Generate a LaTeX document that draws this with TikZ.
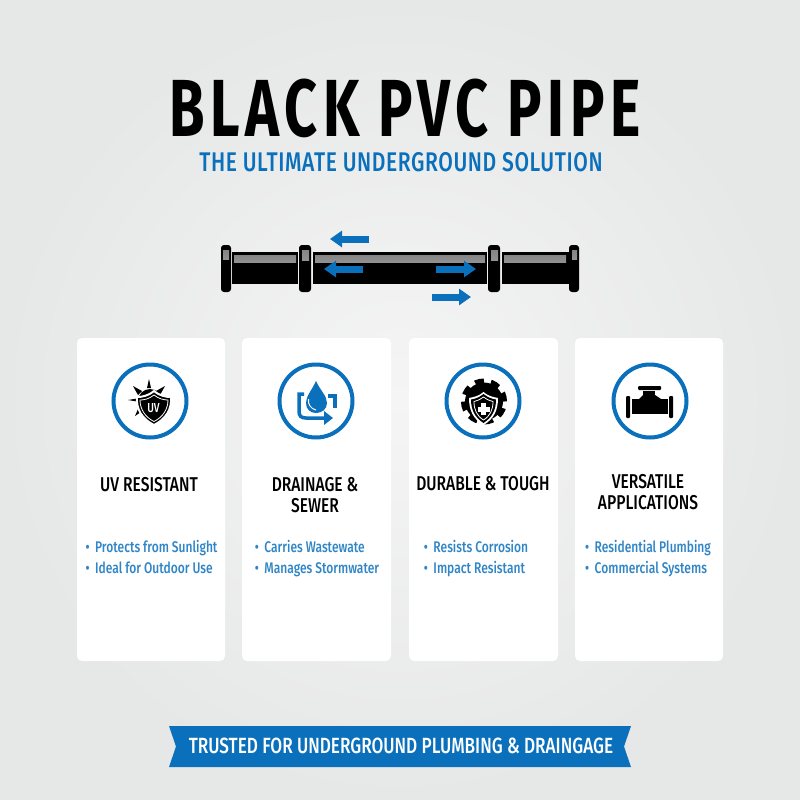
\documentclass[tikz,border=0pt]{standalone}
\usepackage{fontspec}
\setmainfont{Fira Sans}
\newfontfamily\narrowfont[FakeStretch=0.78]{Fira Sans Medium}
\newfontfamily\subtitlefont[FakeStretch=0.78,LetterSpace=2.2]{Fira Sans Medium}
\newfontfamily\titlefont[FakeStretch=0.71,LetterSpace=6.8]{Fira Sans Bold}
\usetikzlibrary{positioning}
\usetikzlibrary{arrows.meta}
\definecolor{pipeblue}{HTML}{0A70BC}
\definecolor{bgmid}{HTML}{F5F5F5}
\definecolor{bgedge}{HTML}{E6E7E7}
\tikzset{
	card/.style = {fill=white, rounded corners=5pt, draw=none},
	cardtitle/.style = {align=center, inner sep=0pt, text=black, font=\narrowfont\fontsize{20}{21}\selectfont},
	bullets/.style = {align=left, inner sep=0pt, text=pipeblue!85!white, font=\narrowfont\fontsize{15.4}{21}\selectfont},
	ring/.style = {circle, draw=pipeblue, line width=4pt, minimum size=73pt, inner sep=0pt, fill=white},
	collar/.style = {fill=black, rounded corners=3pt},
	shine/.style = {top color=black!45, bottom color=black!40, fill opacity=0.95},
	flow/.style = {-{Triangle[length=12pt,width=16pt]}, pipeblue, line width=7pt},
	gear/.style = {fill=black},
	drawn/.style = {pipeblue, line width=3.5pt}
}
\begin{document}
\begin{tikzpicture}[x=1pt,y=-1pt]
	\useasboundingbox (0,0) rectangle (800,800);
	\fill[inner color=bgmid, outer color=bgedge] (0,0) rectangle (800,800);
	% heading
	\node[inner sep=0pt, anchor=base, text depth=0pt, font=\titlefont\fontsize{81}{81}\selectfont] (heading) at (405,136) {BLACK PVC PIPE};
	\node[inner sep=0pt, anchor=base, text depth=0pt, text height=19pt, text=pipeblue, font=\subtitlefont\fontsize{27}{27}\selectfont] (subheading) at (401,171) {THE ULTIMATE UNDERGROUND SOLUTION};
	% pipe
	\fill[black] (232,252) rectangle (298,284);
	\fill[black] (313,252) rectangle (487,284);
	\fill[black] (502,252) rectangle (569,284);
	\fill[collar] (221,245) rectangle (231,292);
	\fill[collar] (299,245) rectangle (311,292);
	\fill[collar] (488,245) rectangle (500,292);
	\fill[collar] (569,245) rectangle (579,292);
	\shade[shine] (234,255) rectangle (296,262);
	\shade[shine] (315,255) rectangle (485,262);
	\shade[shine] (504,255) rectangle (566,262);
	\shade[shine] (223,250) rectangle (229,259);
	\shade[shine] (302,250) rectangle (309,260);
	\shade[shine] (491,250) rectangle (498,260);
	\shade[shine] (572,250) rectangle (577,259);
	\coordinate (a1) at (369,239);
	\coordinate (a2) at (330,239);
	\coordinate (b1) at (363,269);
	\coordinate (b2) at (324,269);
	\coordinate (c1) at (436,269);
	\coordinate (c2) at (476,269);
	\coordinate (d1) at (432,297);
	\coordinate (d2) at (471,297);
	\draw[flow] (a1) -- (a2);
	\draw[flow] (b1) -- (b2);
	\draw[flow] (c1) -- (c2);
	\draw[flow] (d1) -- (d2);
	% cards
	\fill[card] (77,338) rectangle (225,661);
	\fill[card] (242,338) rectangle (391,661);
	\fill[card] (409,338) rectangle (558,661);
	\fill[card] (575,338) rectangle (723,661);
	\node[ring] (uv) at (150,401) {};
	\node[ring] (drain) at (316,401) {};
	\node[ring] (tough) at (483,401) {};
	\node[ring] (versatile) at (650,401) {};
	% sun and shield
	\fill[black] (147,388) -- (149,379) -- (151,388) -- cycle;
	\fill[black] (138,395) -- (133,386) -- (142,391) -- cycle;
	\fill[black] (137,398.5) -- (128,400) -- (137,401.5) -- cycle;
	\fill[black] (156,391) -- (165,386) -- (160,395) -- cycle;
	\fill[black] (138,409) -- (135,416) -- (141,412) -- cycle;
	\fill[black] (150,401) circle (12pt);
	\draw[white, line width=2pt, fill=black] (154,391) .. controls (160,396) and (166,397) .. (171,397) .. controls (172,409) and (166,419) .. (154,425) .. controls (142,419) and (136,409) .. (137,397) .. controls (142,397) and (148,396) .. (154,391) -- cycle;
	\draw[white, line width=0.8pt] (154,395) .. controls (159,399) and (164,400) .. (168,400) .. controls (168,409) and (163,417) .. (154,421.5) .. controls (145,417) and (140,409) .. (140,400) .. controls (144,400) and (149,399) .. (154,395) -- cycle;
	\node[inner sep=0pt, text=white, font=\narrowfont\fontsize{13}{13}\selectfont] (uvmark) at (153.5,408) {UV};
	% drop and return arrow
	\fill[pipeblue] (316,381) .. controls (320,390) and (327,396) .. (327,403) .. controls (327,409) and (322,413) .. (316,413) .. controls (310,413) and (306,409) .. (306,403) .. controls (306,396) and (312,390) .. (316,381) -- cycle;
	\draw[white, line width=1pt] (308.5,399) .. controls (307.5,404) and (311,409) .. (316,410);
	\draw[drawn] (304,394) -- (299,394) -- (299,411) .. controls (299,416) and (301,418) .. (306,418) -- (326,418);
	\draw[drawn] (328,396) -- (335,396) -- (335,408);
	\fill[pipeblue] (324,411) -- (333,418) -- (324,425) -- cycle;
	% gear and shield
	\draw[black, line width=5pt, dash pattern=on 9pt off 7.1pt] (484,401.5) circle (20.5pt);
	\fill[gear] (484,401.5) circle (19pt);
	\fill[white] (483.5,392) .. controls (488,396) and (493,397) .. (498,398) .. controls (498,410) and (494,419) .. (483.5,425) .. controls (473,419) and (469,410) .. (469,398) .. controls (474,397) and (479,396) .. (483.5,392) -- cycle;
	\fill[black] (483.5,394) .. controls (488,397.5) and (492,399) .. (496,399.5) .. controls (496,410) and (492,417.5) .. (483.5,423) .. controls (475,417.5) and (471,410) .. (471,399.5) .. controls (475,399) and (479,397.5) .. (483.5,394) -- cycle;
	\draw[white, line width=0.8pt] (483.5,397) .. controls (487,399.5) and (490,401) .. (493,401.5) .. controls (493,410) and (490,416) .. (483.5,420) .. controls (477,416) and (474,410) .. (474,401.5) .. controls (477,401) and (480,399.5) .. (483.5,397) -- cycle;
	\fill[white] (481,403) rectangle (486,415);
	\fill[white] (477.5,406.5) rectangle (489.5,411.5);
	% tee fitting
	\fill[black] (632,399) rectangle (668,414);
	\fill[black] (643,391) rectangle (655,400);
	\fill[black] (639,399) -- (643,395) -- (655,395) -- (661,399) -- cycle;
	\fill[collar, rounded corners=1pt] (626,396) rectangle (630,418);
	\fill[collar, rounded corners=1pt] (669,396) rectangle (673,418);
	\fill[collar, rounded corners=1pt] (638,386) rectangle (661,390);
	% card texts
	\node[cardtitle] (uvtitle) at (149,485) {UV RESISTANT};
	\node[cardtitle] (draintitle) at (315,495) {DRAINAGE \&\\SEWER};
	\node[cardtitle] (toughtitle) at (483,484) {DURABLE \& TOUGH};
	\node[cardtitle] (versatiletitle) at (648,492) {VERSATILE\\APPLICATIONS};
	\node[bullets] (uvlist) at (151.5,557) {•\, Protects from Sunlight\\•\, Ideal for Outdoor Use};
	\node[bullets] (drainlist) at (317,558.5) {•\, Carries Wastewate\\•\, Manages Stormwater};
	\node[bullets] (toughlist) at (476,558.5) {•\, Resists Corrosion\\•\, Impact Resistant};
	\node[bullets] (versatilelist) at (648,558.5) {•\, Residential Plumbing\\•\, Commercial Systems};
	% ribbon
	\fill[pipeblue] (169,726) -- (631,726) -- (624,746.5) -- (631,767) -- (169,767) -- (176,746.5) -- cycle;
	\node[inner sep=0pt, text=white, font=\narrowfont\fontsize{22}{22}\selectfont] (ribbontext) at (401,746) {TRUSTED FOR UNDERGROUND PLUMBING \& DRAINGAGE};
\end{tikzpicture}
\end{document}
